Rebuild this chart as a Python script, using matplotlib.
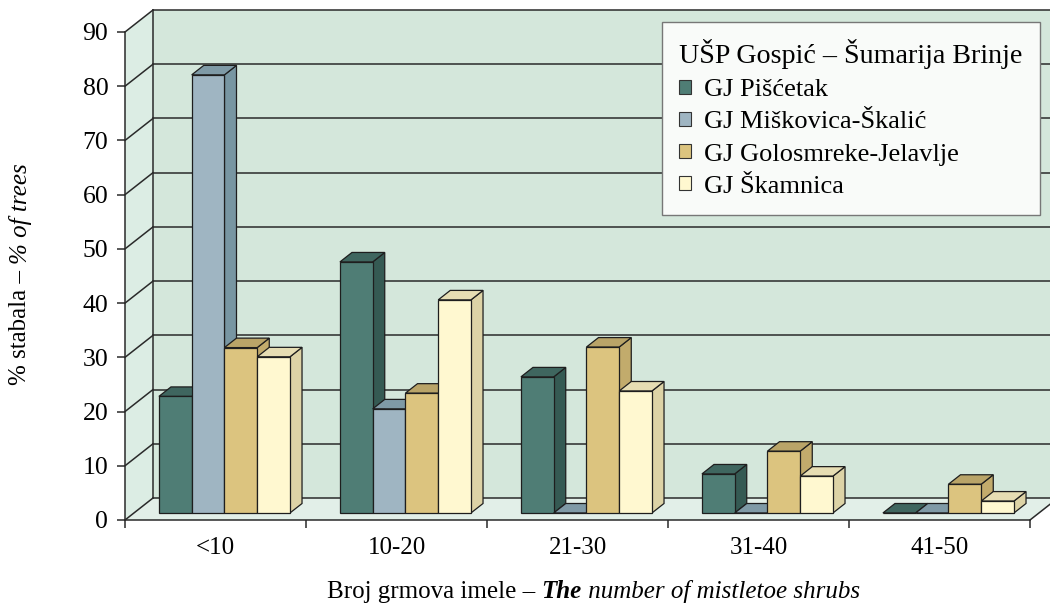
import matplotlib
matplotlib.use("Agg")
import matplotlib.pyplot as plt
import numpy as np
from matplotlib.patches import Polygon, Rectangle
from matplotlib.lines import Line2D
from matplotlib.transforms import IdentityTransform

# ---- data -------------------------------------------------------------
categories = ["<10", "10-20", "21-30", "31-40", "41-50"]
series_names = ["GJ Pišćetak", "GJ Miškovica-Škalić",
                "GJ Golosmreke-Jelavlje", "GJ Škamnica"]
piscetak = [21.5, 46.3, 25.1, 7.2, 0.0]
miskovica = [80.8, 19.2, 0.0, 0.0, 0.0]
golosmreke = [30.5, 22.1, 30.6, 11.4, 5.3]
skamnica = [28.8, 39.3, 22.5, 6.8, 2.2]
y_ticks = list(range(0, 91, 10))
legend_title = "UŠP Gospić – Šumarija Brinje"

# ---- styling ----------------------------------------------------------
plt.rcParams["font.family"] = ["Liberation Serif", "DejaVu Serif"]
front_cols = ["#4f7d75", "#9fb5c2", "#dcc47f", "#fff8d0"]
top_cols = ["#3f665f", "#7f9aa6", "#b9a468", "#e6ddb3"]
side_cols = ["#355a53", "#7896a2", "#c2ab6c", "#ddd3a6"]
edge = "#1e1e1e"
line_col = "#2a2a2a"

W, H, DPI = 1050, 604, 100
fig = plt.figure(figsize=(W / DPI, H / DPI), dpi=DPI)
fig.patch.set_facecolor("white")

# front plane of the 3-D box
ax = fig.add_axes([125 / W, (H - 520) / H, 905 / W, 488 / H])
ax.set_xlim(0, len(categories))
ax.set_ylim(0, 90)
ax.patch.set_visible(False)

DEPTH = np.array([28.0, 22.0])      # display offset of the back wall
F0, F1 = 0.32, 0.75                 # depth range occupied by the bars


def P(x, v, d):
    """Project (category x, value v, depth d) to display pixels."""
    return ax.transData.transform((x, v)) + d * DEPTH


def poly(pts, fc, ec=edge, lw=0.9, z=1):
    p = Polygon(np.array(pts), closed=True, facecolor=fc, edgecolor=ec,
                linewidth=lw, transform=IdentityTransform(), clip_on=False,
                zorder=z, joinstyle="miter")
    ax.add_artist(p)


def line(p0, p1, z=2, lw=1.1, c=line_col):
    ln = Line2D([p0[0], p1[0]], [p0[1], p1[1]], color=c, lw=lw,
                transform=IdentityTransform(), clip_on=False, zorder=z)
    ax.add_artist(ln)


n = len(categories)
ymax = y_ticks[-1]

# walls and floor
poly([P(0, 0, 1), P(n, 0, 1), P(n, ymax, 1), P(0, ymax, 1)], "#d4e7db",
     ec="none", z=0)
poly([P(0, 0, 0), P(0, 0, 1), P(0, ymax, 1), P(0, ymax, 0)], "#dcede4",
     ec="none", z=0)
poly([P(0, 0, 0), P(n, 0, 0), P(n, 0, 1), P(0, 0, 1)], "#e2efe8",
     ec="none", z=0)

for v in y_ticks:
    line(P(0, v, 1), P(n, v, 1), z=0.5)
    line(P(0, v, 0), P(0, v, 1), z=0.5)
line(P(0, 0, 1), P(0, ymax, 1), z=0.5)
line(P(n, 0, 0), P(n, 0, 1), z=0.5)

# 3-D columns
series = [piscetak, miskovica, golosmreke, skamnica]
group_w = 0.724
bar_w = group_w / len(series)
start = (1 - group_w) / 2
z = 3
for i in range(n):
    for j, vals in enumerate(series):
        v = vals[i]
        x0 = i + start + j * bar_w
        x1 = x0 + bar_w
        poly([P(x1, 0, F0), P(x1, 0, F1), P(x1, v, F1), P(x1, v, F0)],
             side_cols[j], z=z)
        poly([P(x0, v, F0), P(x1, v, F0), P(x1, v, F1), P(x0, v, F1)],
             top_cols[j], z=z + 0.1)
        poly([P(x0, 0, F0), P(x1, 0, F0), P(x1, v, F0), P(x0, v, F0)],
             front_cols[j], z=z + 0.2)
        z += 0.3

# axes lines and ticks
for s in ["top", "right"]:
    ax.spines[s].set_visible(False)
for s in ["left", "bottom"]:
    ax.spines[s].set_color(line_col)
    ax.spines[s].set_linewidth(1.1)
    ax.spines[s].set_zorder(10)
ax.set_yticks(y_ticks)
ax.tick_params(axis="y", direction="out", length=6, width=1.1,
               color=line_col, labelsize=18.5, pad=6)
ax.set_xticks(np.arange(n) + 0.5)
ax.set_xticklabels(categories)
ax.set_xticks(np.arange(n + 1), minor=True)
ax.tick_params(axis="x", which="major", length=0, labelsize=18, pad=12)
ax.tick_params(axis="x", which="minor", direction="out", length=6,
               width=1.1, color=line_col)

# axis titles with mixed styles
fs = 18
t1 = fig.text(327 / W, 1 - 598 / H, "Broj grmova imele – ", fontsize=fs,
              ha="left", va="baseline")
a2 = ax.annotate("The", xy=(1, 0), xycoords=t1, ha="left", va="bottom",
                 fontsize=fs, fontstyle="italic", fontweight="bold",
                 annotation_clip=False)
ax.annotate(" number of mistletoe shrubs", xy=(1, 0), xycoords=a2,
            ha="left", va="bottom", fontsize=fs, fontstyle="italic",
            annotation_clip=False)

y1 = fig.text(20 / W, 1 - 385 / H, "% stabala – ", fontsize=fs,
              rotation=90, ha="center", va="bottom")
ax.annotate("% of trees", xy=(0.5, 1), xycoords=y1, ha="center",
            va="bottom", rotation=90, fontsize=fs, fontstyle="italic",
            annotation_clip=False)

# legend
handles = [Rectangle((0, 0), 1, 1, facecolor=front_cols[j], edgecolor="#333",
                     linewidth=0.8) for j in range(len(series))]
leg = fig.legend(handles, series_names, title=legend_title,
                 loc="upper right", bbox_to_anchor=(1040 / W, 1 - 22 / H),
                 bbox_transform=fig.transFigure, borderaxespad=0,
                 fontsize=19, title_fontsize=20.2, alignment="left",
                 handlelength=0.45, handleheight=0.45, handletextpad=0.5,
                 labelspacing=0.38, borderpad=0.66, fancybox=False,
                 framealpha=1, facecolor="#f9fbf9", edgecolor="#777777")
leg.get_frame().set_linewidth(1.0)

fig.savefig("out.png", dpi=DPI)
